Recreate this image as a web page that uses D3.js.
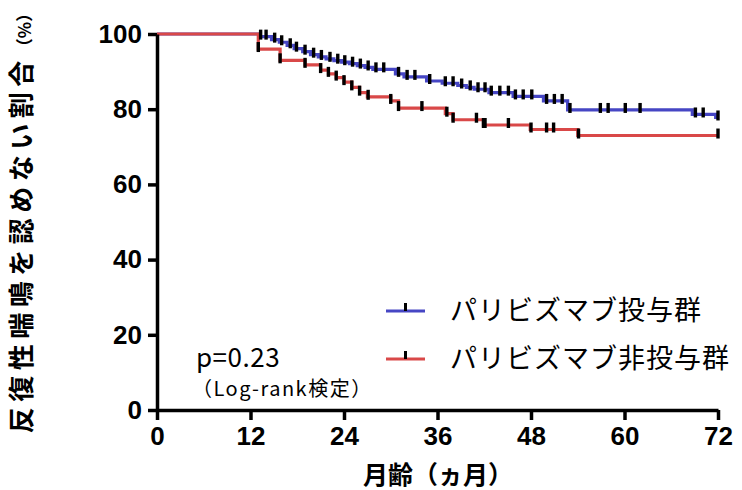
<!DOCTYPE html>
<html>
<head>
<meta charset="utf-8">
<script src="https://cdn.jsdelivr.net/npm/d3@7"></script>
<style>
  body { margin: 0; background: #fff; }
  svg { display: block; }
</style>
</head>
<body>
<div id="chart"></div>
<script>
// Axis ticks
const xTicks = [0, 12, 24, 36, 48, 60, 72];
const yTicks = [0, 20, 40, 60, 80, 100];

// Kaplan-Meier steps: [month, % without recurrent wheeze]
const blueSteps = [[0,100],[13.2,99.3],[14.7,98.5],[15.7,97.8],[16.7,97],[17.6,96.1],[18.7,95.3],[19.7,94.5],
  [20.7,93.9],[21.7,93.4],[22.7,92.9],[23.7,92.5],[24.7,92.1],[25.7,91.6],[26.7,91.1],[27.7,90.6],
  [30.6,89.4],[31.7,88.6],[34.6,87.5],[36.6,86.9],[38.6,86.3],[39.7,85.8],[40.7,85.3],[42.6,84.4],
  [45.7,83.4],[49.6,82.2],[52.7,79.8],[68.7,78.6],[71.7,77.8]];
const blueCensor = [13.3,14,15.1,16,17.1,17.9,19,20.1,21.1,22.2,23.2,24.1,25.1,26.1,27.1,28.1,29.1,31,32.1,33.1,
  35,37,38,39.1,40.2,41.2,42.1,42.9,44,45.1,46,47,48.1,50,51,52,53,56.9,57.9,60.1,62,69.1,70.1,72];

const redSteps = [[0,100],[13,96],[15.8,93],[19,91.8],[21,90.4],[22,89.4],[23,88.4],[24,87.2],[25,85.8],
  [26,84.4],[27,83.3],[30,82.2],[31,80.3],[37,78.8],[38,77.2],[41.9,75.8],[47.9,74.6],[54,73]];
const redCensor = [13,15.8,19,21,22,23,24,25,26,27.1,30,31,34,37.2,38,41,41.9,42.1,45.1,48,50,50.9,54.1,72];

const seriesNames = ["パリビズマブ投与群", "パリビズマブ非投与群"];
const seriesColors = ["#4646c4", "#d94848"];

const W = 742, H = 490;
const jp = "'Noto Sans CJK JP', 'Noto Sans', sans-serif";

const svg = d3.select("#chart").append("svg")
    .attr("width", W)
    .attr("height", H);

const x = d3.scaleLinear().domain([0, 72]).range([157, 718]);
const y = d3.scaleLinear().domain([0, 100]).range([410, 34]);

// survival value at time t (step function)
function survAt(steps, t) {
    let v = steps[0][1];
    steps.forEach(function(s) { if (s[0] <= t) v = s[1]; });
    return v;
}

const line = d3.line()
    .x(d => x(d[0]))
    .y(d => y(d[1]))
    .curve(d3.curveStepAfter);

const series = [
    {steps: blueSteps, censor: blueCensor, color: seriesColors[0]},
    {steps: redSteps, censor: redCensor, color: seriesColors[1]}
];

// red drawn last, it sits on top of blue along 100%
series.forEach(function(s) {
    const pts = s.steps.concat([[72, s.steps[s.steps.length - 1][1]]]);
    svg.append("path")
        .datum(pts)
        .attr("fill", "none")
        .attr("stroke", s.color)
        .attr("stroke-width", 3.2)
        .attr("d", line);
});

series.forEach(function(s) {
    svg.append("g").selectAll("line")
        .data(s.censor)
        .join("line")
        .attr("x1", d => x(d))
        .attr("x2", d => x(d))
        .attr("y1", d => y(survAt(s.steps, d)) - 7)
        .attr("y2", d => y(survAt(s.steps, d)) + 3)
        .attr("stroke", "#000")
        .attr("stroke-width", 3.4);
});

// X axis
const xAxis = svg.append("g")
    .attr("transform", "translate(0,410)")
    .call(d3.axisBottom(x).tickValues(xTicks).tickSize(10).tickSizeOuter(0).tickPadding(7));

// Y axis
const yAxis = svg.append("g")
    .attr("transform", "translate(157,0)")
    .call(d3.axisLeft(y).tickValues(yTicks).tickSize(9).tickSizeOuter(0).tickPadding(6));

[xAxis, yAxis].forEach(function(a) {
    a.select(".domain").attr("stroke", "#000").attr("stroke-width", 3.5);
    a.selectAll(".tick line").attr("stroke", "#000").attr("stroke-width", 3.5);
    a.selectAll(".tick text")
        .attr("fill", "#000")
        .style("font-family", "'Liberation Sans', Arial, sans-serif")
        .style("font-weight", "bold")
        .style("font-size", "26px");
});

// X axis label
svg.append("text")
    .attr("x", 438)
    .attr("y", 484)
    .attr("text-anchor", "middle")
    .style("font-family", jp)
    .style("font-weight", "bold")
    .style("font-size", "25px")
    .text("月齢（ヵ月）");

// Y axis label
const yl = svg.append("text")
    .attr("transform", "translate(31," + (28 + 410) / 2 + ") rotate(-90)")
    .attr("text-anchor", "middle")
    .style("font-family", jp)
    .style("font-weight", "bold")
    .style("font-size", "26px")
    .style("letter-spacing", "5.5px");
yl.append("tspan").text("反復性喘鳴を認めない割合");
yl.append("tspan").style("font-size", "17px").style("letter-spacing", "0px").text("（%）");

// Legend
const legendY = [311, 359];
series.forEach(function(s, i) {
    svg.append("line")
        .attr("x1", 386).attr("x2", 425)
        .attr("y1", legendY[i]).attr("y2", legendY[i])
        .attr("stroke", s.color)
        .attr("stroke-width", 3.2);
    svg.append("line")
        .attr("x1", 405.5).attr("x2", 405.5)
        .attr("y1", legendY[i] - 8).attr("y2", legendY[i])
        .attr("stroke", "#000")
        .attr("stroke-width", 3);
    svg.append("text")
        .attr("x", 450)
        .attr("y", legendY[i] - 3)
        .attr("dominant-baseline", "central")
        .style("font-family", jp)
        .style("font-size", "27px")
        .style("letter-spacing", "1px")
        .text(seriesNames[i]);
});

// p value
svg.append("text")
    .attr("x", 196)
    .attr("y", 367)
    .style("font-family", jp)
    .style("font-size", "26px")
    .style("letter-spacing", "0.5px")
    .text("p=0.23");

svg.append("text")
    .attr("x", 192)
    .attr("y", 396)
    .style("font-family", jp)
    .style("font-size", "20px")
    .style("letter-spacing", "1.5px")
    .text("（Log-rank検定）");
</script>
</body>
</html>
